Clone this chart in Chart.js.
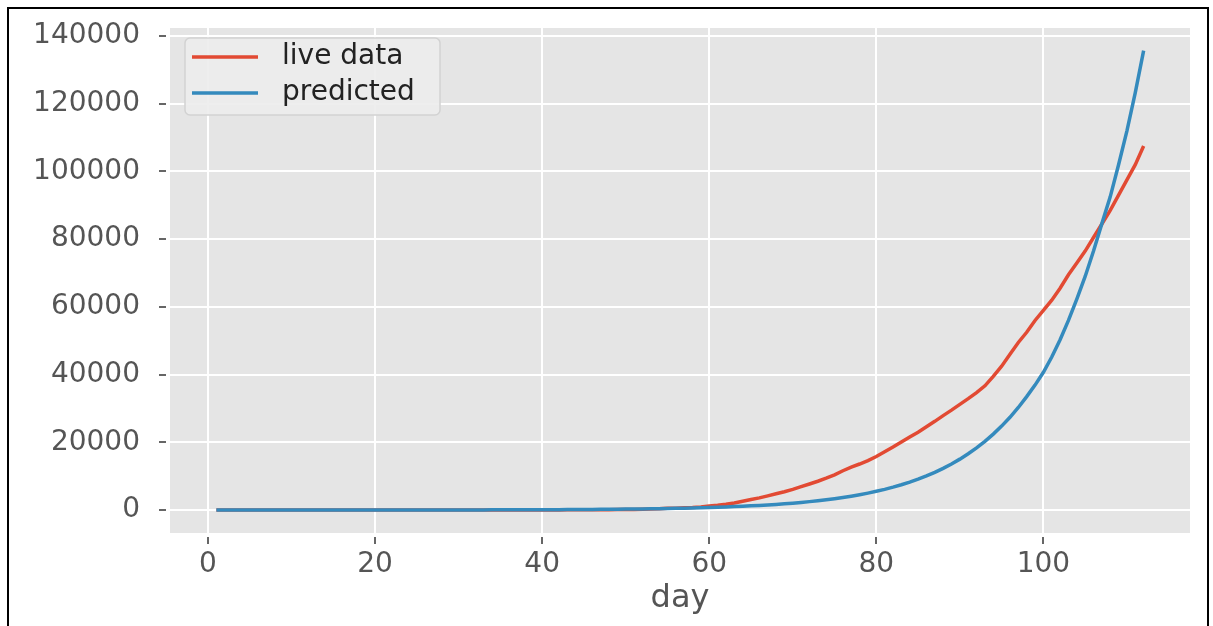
<!DOCTYPE html>
<html>
<head>
<meta charset="utf-8">
<script src="https://cdn.jsdelivr.net/npm/chart.js"></script>
<style>
  html, body { margin: 0; padding: 0; background: #fff; overflow: hidden; }
  #wrap { position: relative; width: 1213px; height: 626px; }
  #graphe { position: absolute; left: 0; top: 0; }
  #cadre { position: absolute; left: 7px; top: 7px; width: 1198px; height: 700px;
           border: 2px solid #000; pointer-events: none; }
</style>
</head>
<body>
<div id="wrap">
  <canvas id="graphe" width="1213" height="626"></canvas>
  <div id="cadre"></div>
</div>
<script>
// jours 1..112
const days = [
  1, 2, 3, 4, 5, 6, 7, 8, 9, 10, 11, 12, 13, 14, 15, 16, 17, 18, 19, 20,
  21, 22, 23, 24, 25, 26, 27, 28, 29, 30, 31, 32, 33, 34, 35, 36, 37, 38, 39, 40,
  41, 42, 43, 44, 45, 46, 47, 48, 49, 50, 51, 52, 53, 54, 55, 56, 57, 58, 59, 60,
  61, 62, 63, 64, 65, 66, 67, 68, 69, 70, 71, 72, 73, 74, 75, 76, 77, 78, 79, 80,
  81, 82, 83, 84, 85, 86, 87, 88, 89, 90, 91, 92, 93, 94, 95, 96, 97, 98, 99, 100,
  101, 102, 103, 104, 105, 106, 107, 108, 109, 110, 111, 112
];

// cas confirmés (live data)
const liveData = [
  1, 1, 1, 2, 3, 3, 3, 3, 3, 3, 3, 3, 3, 3, 3, 3, 3, 3, 3, 3,
  3, 3, 3, 3, 3, 3, 3, 3, 3, 3, 3, 3, 3, 5, 6, 28, 30, 31, 34, 39,
  43, 50, 60, 73, 82, 100, 110, 120, 140, 160, 194, 244, 330, 400, 500, 540, 650, 730, 880, 1200,
  1400, 1700, 2100, 2600, 3100, 3600, 4200, 4800, 5400, 6100, 6900, 7700, 8500, 9400, 10400, 11600, 12700, 13600, 14600, 15800,
  17200, 18600, 20100, 21600, 23000, 24600, 26200, 27900, 29500, 31200, 32900, 34700, 36700, 39500, 42500, 46000, 49500, 52500, 56000, 59000,
  62000, 65500, 69500, 73000, 76500, 80500, 84500, 88500, 93000, 97500, 102000, 107500
];

// modèle (predicted)
const predicted = [
  2, 2, 2, 3, 3, 3, 4, 4, 4, 5, 5, 6, 7, 7, 8, 9, 10, 11, 12, 14,
  15, 17, 18, 20, 22, 25, 28, 30, 34, 37, 41, 45, 50, 55, 61, 68, 75, 83, 92, 101,
  112, 124, 137, 151, 167, 185, 204, 225, 249, 275, 304, 336, 372, 411, 454, 502, 555, 613, 678, 749,
  828, 915, 1011, 1117, 1234, 1364, 1508, 1666, 1841, 2035, 2249, 2486, 2747, 3036, 3355, 3708, 4098, 4529, 5005, 5532,
  6113, 6756, 7467, 8252, 9120, 10079, 11139, 12311, 13606, 15037, 16618, 18366, 20297, 22432, 24791, 27400, 30300, 33500, 36900, 40700,
  45200, 50300, 56000, 62300, 69000, 76500, 84600, 92500, 102000, 112000, 123300, 135700
];

const seriesLabels = ["live data", "predicted"];
const seriesColors = ["#E24A33", "#348ABD"];
const xTicks = [0, 20, 40, 60, 80, 100];
const yTicks = [0, 20000, 40000, 60000, 80000, 100000, 120000, 140000];

const police = "'DejaVu Sans', sans-serif";

// petits traits de graduation + légende dans le cadre
const decor = {
  id: "decor",
  afterDraw(chart) {
    const c = chart.ctx;
    const xs = chart.scales.x, ys = chart.scales.y;
    const area = chart.chartArea;
    c.save();
    c.strokeStyle = "#666";
    c.lineWidth = 2;
    xTicks.forEach(function (t) {
      const px = Math.round(xs.getPixelForValue(t));
      c.beginPath();
      c.moveTo(px, area.bottom + 4);
      c.lineTo(px, area.bottom + 11);
      c.stroke();
    });
    yTicks.forEach(function (t) {
      const py = Math.round(ys.getPixelForValue(t));
      c.beginPath();
      c.moveTo(area.left - 11, py);
      c.lineTo(area.left - 4, py);
      c.stroke();
    });

    // légende
    const lx = 185, ly = 38, lw = 255, lh = 77;
    c.beginPath();
    c.roundRect(lx, ly, lw, lh, 5);
    c.fillStyle = "rgba(236,236,236,0.9)";
    c.fill();
    c.strokeStyle = "#d2d2d2";
    c.lineWidth = 1.5;
    c.stroke();

    chart.data.datasets.forEach(function (ds, i) {
      const y = 57 + i * 36;
      c.strokeStyle = ds.borderColor;
      c.lineWidth = 3.5;
      c.beginPath();
      c.moveTo(192, y);
      c.lineTo(258, y);
      c.stroke();
      c.fillStyle = "#222";
      c.font = "28px " + police;
      c.textBaseline = "middle";
      c.textAlign = "left";
      c.fillText(ds.label, 282, y);
    });
    c.restore();
  }
};

// fond gris de la zone de tracé
const fond = {
  id: "fond",
  beforeDraw(chart) {
    const a = chart.chartArea;
    chart.ctx.save();
    chart.ctx.fillStyle = "#E5E5E5";
    chart.ctx.fillRect(a.left, a.top, a.right - a.left, a.bottom - a.top);
    chart.ctx.restore();
  }
};

const ctx = document.getElementById("graphe").getContext("2d");

new Chart(ctx, {
  type: "line",
  data: {
    labels: days,
    datasets: [
      {
        label: seriesLabels[0],
        data: liveData.map(function (v, i) { return { x: days[i], y: v }; }),
        borderColor: seriesColors[0],
        borderWidth: 3.5,
        pointRadius: 0,
        tension: 0,
        fill: false,
        order: 1,
      },
      {
        label: seriesLabels[1],
        data: predicted.map(function (v, i) { return { x: days[i], y: v }; }),
        borderColor: seriesColors[1],
        borderWidth: 3.5,
        pointRadius: 0,
        tension: 0,
        fill: false,
        order: 0,
      },
    ],
  },
  options: {
    responsive: false,
    animation: false,
    devicePixelRatio: 1,
    layout: { padding: { top: 28, right: 23, left: 0, bottom: 0 } },
    plugins: {
      legend: { display: false },
      tooltip: { enabled: false },
    },
    scales: {
      x: {
        type: "linear",
        min: -4.55,
        max: 117.55,
        afterBuildTicks: function (s) { s.ticks = xTicks.map(function (v) { return { value: v }; }); },
        afterFit: function (s) { s.height = 93; s.paddingLeft = 0; s.paddingRight = 0; },
        border: { display: false },
        grid: { color: "#ffffff", lineWidth: 2, drawTicks: false },
        ticks: {
          padding: 15,
          color: "#555",
          font: { family: police, size: 28 },
          maxRotation: 0,
        },
        title: {
          display: true,
          text: "day",
          color: "#555",
          font: { family: police, size: 32 },
          padding: { top: 0, bottom: 8 },
        },
      },
      y: {
        min: -6780,
        max: 142380,
        afterBuildTicks: function (s) { s.ticks = yTicks.map(function (v) { return { value: v }; }); },
        afterFit: function (s) { s.width = 170; s.paddingTop = 0; s.paddingBottom = 0; },
        border: { display: false },
        grid: { color: "#ffffff", lineWidth: 2, drawTicks: false },
        ticks: {
          padding: 30,
          color: "#555",
          font: { family: police, size: 28 },
          callback: function (v) { return String(v); },
        },
      },
    },
  },
  plugins: [fond, decor],
});
</script>
</body>
</html>
